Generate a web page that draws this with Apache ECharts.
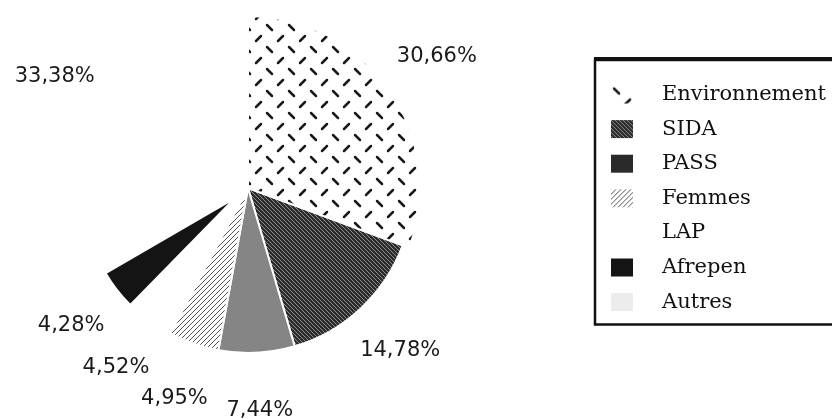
<!DOCTYPE html>
<html>
<head>
<meta charset="utf-8">
<script src="https://cdn.jsdelivr.net/npm/echarts@6/dist/echarts.min.js"></script>
<style>
html, body { margin: 0; padding: 0; background: #fff; }
#chart { width: 832px; height: 419px; }
</style>
</head>
<body>
<div id="chart"></div>
<script>
// data (percent of total)
const categories = ['Environnement', 'SIDA', 'PASS', 'Femmes', 'LAP', 'Afrepen', 'Autres']
const shares = [30.66, 14.78, 7.44, 4.95, 4.52, 4.28, 33.38]

const cx = 248
const cy = 188
const labelGap = 58

// the scanned pie is not quite round: a few slices are drawn bigger / pulled out
const ring = [
  { names: ['SIDA', 'PASS', 'Femmes', 'LAP', 'Autres'], radius: 165, offset: 0 },
  { names: ['Environnement'], radius: 172, offset: 0 },
  { names: ['Afrepen'], radius: 150, offset: 16 }
]

// small canvas tiles used as fill patterns
function makeTile (w, h, bg, draw) {
  const c = document.createElement('canvas')
  c.width = w
  c.height = h
  const ctx = c.getContext('2d')
  if (bg) {
    ctx.fillStyle = bg
    ctx.fillRect(0, 0, w, h)
  }
  draw(ctx)
  return { image: c, repeat: 'repeat' }
}

const fills = {
  Environnement: makeTile(22, 22, '#fff', ctx => {
    ctx.strokeStyle = '#1a1a1a'
    ctx.lineWidth = 2.5
    ctx.lineCap = 'round'
    ctx.beginPath()
    ctx.moveTo(3, 3); ctx.lineTo(8, 8)
    ctx.moveTo(14, 19); ctx.lineTo(19, 14)
    ctx.stroke()
  }),
  SIDA: makeTile(4, 4, '#2b2b2b', ctx => {
    ctx.strokeStyle = '#8e8e8e'
    ctx.lineWidth = 1
    ctx.beginPath()
    ctx.moveTo(0, 0); ctx.lineTo(4, 4)
    ctx.moveTo(-1, 3); ctx.lineTo(1, 5)
    ctx.moveTo(3, -1); ctx.lineTo(5, 1)
    ctx.stroke()
  }),
  PASS: '#858585',
  Femmes: makeTile(5, 5, '#fff', ctx => {
    ctx.strokeStyle = '#555'
    ctx.lineWidth = 1
    ctx.beginPath()
    ctx.moveTo(0, 5); ctx.lineTo(5, 0)
    ctx.moveTo(-1, 1); ctx.lineTo(1, -1)
    ctx.moveTo(4, 6); ctx.lineTo(6, 4)
    ctx.stroke()
  }),
  LAP: '#fff',
  Afrepen: '#141414',
  Autres: '#fff'
}
const legendIcons = { PASS: '#2a2a2a', Autres: '#ececec' }

const total = shares.reduce((a, b) => a + b, 0)

function midAngle (i) {
  let before = 0
  for (let k = 0; k < i; k++) before += shares[k]
  return (before + shares[i] / 2) / total * Math.PI * 2
}

function ringOf (name) {
  return ring.find(r => r.names.includes(name))
}

const series = ring.map((r, ri) => {
  // pulled-out slice: move the whole series centre along the slice's middle direction
  const idx = categories.indexOf(r.names[0])
  const a = midAngle(idx)
  const center = [cx + r.offset * Math.sin(a), cy - r.offset * Math.cos(a)]
  return {
    type: 'pie',
    center: center,
    radius: r.radius,
    startAngle: 90,
    clockwise: true,
    avoidLabelOverlap: false,
    silent: true,
    emphasis: { disabled: true },
    label: ri === 0
      ? {
          show: true,
          position: 'outside',
          fontFamily: 'DejaVu Sans',
          fontSize: 21,
          color: '#1a1a1a',
          formatter: p => p.value.toFixed(2).replace('.', ',') + '%'
        }
      : { show: false },
    labelLine: { show: false },
    labelLayout: ri === 0
      ? p => {
          const own = ringOf(categories[p.dataIndex])
          const ang = midAngle(p.dataIndex)
          const lr = own.radius + own.offset + labelGap
          return {
            x: cx + lr * Math.sin(ang),
            y: cy - lr * Math.cos(ang),
            align: 'center',
            verticalAlign: 'middle'
          }
        }
      : undefined,
    data: categories.map((name, i) => ({
      name: name,
      value: shares[i],
      itemStyle: r.names.includes(name)
        ? { color: fills[name], borderColor: '#fff', borderWidth: 2 }
        : { color: 'transparent', borderWidth: 0 }
    }))
  }
})

const chart = echarts.init(document.getElementById('chart'))
chart.setOption({
  animation: false,
  backgroundColor: '#fff',
  legend: {
    orient: 'vertical',
    left: 595,
    top: 60,
    padding: [24, 24, 12, 16],
    itemWidth: 22,
    itemHeight: 18,
    itemGap: 13.6,
    borderColor: '#111',
    borderWidth: 2.5,
    backgroundColor: '#fff',
    selectedMode: false,
    textStyle: {
      fontFamily: 'DejaVu Serif',
      fontSize: 21,
      lineHeight: 20,
      color: '#111',
      padding: [0, 0, 0, 24]
    },
    data: categories.map(name => ({
      name: name,
      icon: 'rect',
      itemStyle: { color: legendIcons[name] || fills[name], borderWidth: 0 }
    }))
  },
  // heavier top edge of the legend frame, as in the scan
  graphic: [
    {
      type: 'rect',
      z: 100,
      shape: { x: 594, y: 57, width: 240, height: 4 },
      style: { fill: '#111' }
    }
  ],
  series: series
})
</script>
</body>
</html>
